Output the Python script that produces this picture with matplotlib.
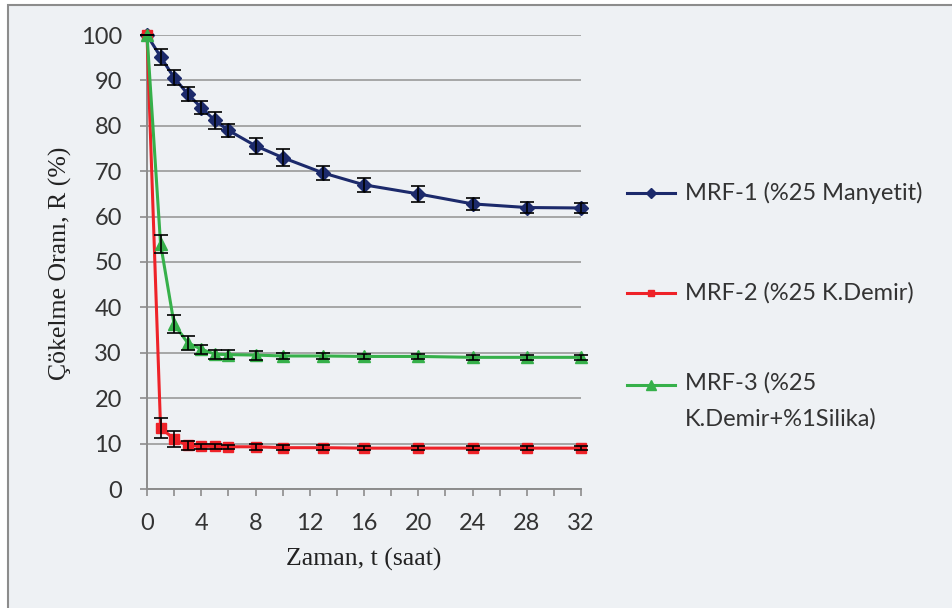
import matplotlib.pyplot as plt
from matplotlib.patches import Rectangle
from matplotlib.lines import Line2D

# zaman (saat)
saat = [0, 1, 2, 3, 4, 5, 6, 8, 10, 13, 16, 20, 24, 28, 32]

mrf1 = [100, 95.2, 90.6, 87.0, 84.0, 81.2, 79.0, 75.6, 73.0, 69.6, 67.0, 65.0, 62.8, 62.0, 61.9]
mrf1_err = [0, 1.8, 1.6, 1.6, 1.4, 1.8, 1.4, 1.8, 1.8, 1.5, 1.6, 1.8, 1.4, 1.3, 1.1]

mrf2 = [100, 13.5, 11.0, 9.6, 9.4, 9.4, 9.3, 9.3, 9.1, 9.1, 9.0, 9.0, 9.0, 9.0, 9.0]
mrf2_err = [0, 2.2, 1.8, 1.0, 0.5, 0.5, 0.5, 0.6, 0.5, 0.5, 0.4, 0.4, 0.4, 0.4, 0.4]

mrf3 = [100, 54.0, 36.3, 32.2, 30.8, 29.7, 29.6, 29.5, 29.3, 29.3, 29.2, 29.2, 29.0, 29.0, 29.0]
mrf3_err = [0, 2.0, 2.0, 1.5, 1.0, 1.0, 1.0, 1.0, 0.7, 0.6, 0.5, 0.5, 0.5, 0.5, 0.5]

etiketler = ["MRF-1 (%25 Manyetit)", "MRF-2 (%25 K.Demir)", "MRF-3 (%25\nK.Demir+%1Silika)"]
renkler = ["#1c2a6b", "#ee2228", "#36b04a"]
isaretler = ["D", "s", "^"]
boyut = [7, 6.5, 8]

W, H = 952, 608
fig = plt.figure(figsize=(W / 100, H / 100), dpi=100)
fig.patch.set_facecolor("white")
fig.add_artist(Rectangle((8 / W, -0.01), 1.0, 1 - 5 / H + 0.01, transform=fig.transFigure,
                         facecolor="#eef1f4", edgecolor="#8c8c8c", linewidth=1.5, zorder=-5))

ax = fig.add_axes([147 / W, 1 - 489 / H, (581 - 147) / W, (489 - 35) / H])
ax.set_facecolor("none")

seriler = [(mrf1, mrf1_err), (mrf2, mrf2_err), (mrf3, mrf3_err)]
for i, (y, e) in enumerate(seriler):
    ax.plot(saat, y, color=renkler[i], lw=2.2, marker=isaretler[i], ms=boyut[i],
            clip_on=False, zorder=3 + i)
    ax.errorbar(saat, y, yerr=e, fmt="none", ecolor="black", elinewidth=1.2,
                capsize=5, capthick=1.2, clip_on=False, zorder=6 + i)

ax.set_xlim(0, 32)
ax.set_ylim(0, 100)
ax.set_xticks(range(0, 33, 4))
ax.set_xticks(range(0, 33, 2), minor=True)
ax.set_yticks(range(0, 101, 10))
ax.grid(axis="y", color="#a6a6a6", lw=1.4)
ax.set_axisbelow(True)
for s in ["top", "right"]:
    ax.spines[s].set_visible(False)
for s in ["left", "bottom"]:
    ax.spines[s].set_color("#8c8c8c")
    ax.spines[s].set_linewidth(1.4)
ax.tick_params(which="both", direction="out", length=5, width=1.2, color="#8c8c8c")
ax.tick_params(axis="y", pad=13)
ax.tick_params(axis="x", pad=12)
for lab in ax.get_xticklabels() + ax.get_yticklabels():
    lab.set_fontfamily("Lato")
    lab.set_fontsize(17)
    lab.set_color("#333333")

ax.set_xlabel("Zaman, t (saat)", family="Liberation Serif", fontsize=18.5, color="#222222", labelpad=10)
# eksen basligi sekil koordinatinda
fig.text(60 / W, 1 - 263 / H, "Çökelme Oranı, R (%)", family="Liberation Serif",
         fontsize=18.5, color="#222222", rotation=90, ha="center", va="center")

# lejant
lej_y = [193, 293, 385]
for i in range(3):
    yy = 1 - lej_y[i] / H
    fig.add_artist(Line2D([627 / W, 675 / W], [yy, yy], transform=fig.transFigure,
                          color=renkler[i], lw=2.2))
    fig.add_artist(Line2D([651 / W], [yy], transform=fig.transFigure, color=renkler[i],
                          marker=isaretler[i], ms=boyut[i] - 1.5, lw=0))
    if "\n" in etiketler[i]:
        fig.text(685 / W, yy + 13 / H, etiketler[i], family="Lato", fontsize=17,
                 color="#333333", va="top", linespacing=1.85)
    else:
        fig.text(685 / W, yy, etiketler[i], family="Lato", fontsize=17,
                 color="#333333", va="center")

fig.savefig("out.png", dpi=100, facecolor=fig.get_facecolor())
